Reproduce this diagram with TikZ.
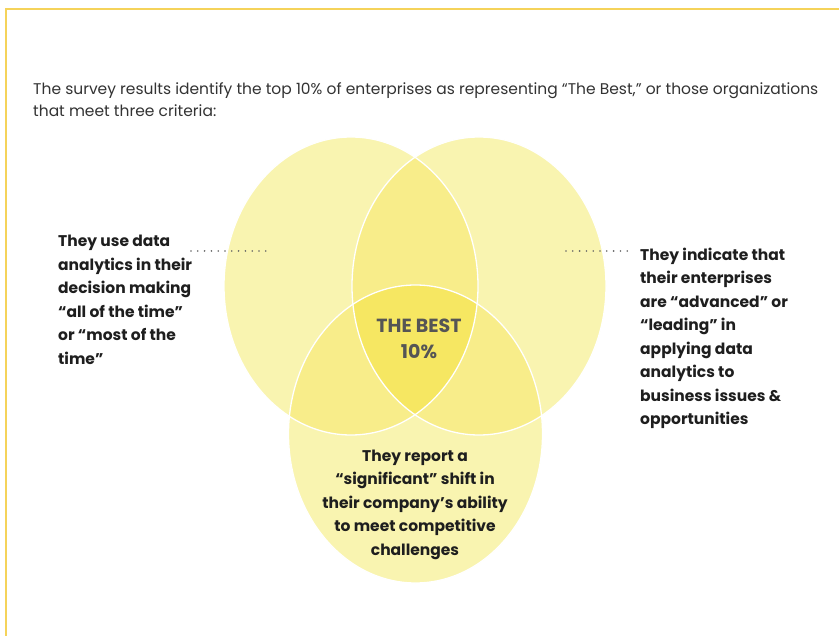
\documentclass[tikz,border=0pt]{standalone}
\usepackage{fontspec}
\setmainfont{Poppins}
\definecolor{frameyellow}{HTML}{F5D35A}
\definecolor{oneset}{HTML}{F9F4B0}
\definecolor{twoset}{HTML}{F8ED8A}
\definecolor{threeset}{HTML}{F6E762}
\definecolor{bodytext}{HTML}{1E1E1E}
\definecolor{introtext}{HTML}{333333}
\definecolor{besttext}{HTML}{555555}
\definecolor{dotgray}{HTML}{666666}
\begin{document}
\begin{tikzpicture}[x=1pt,y=-1pt,
  setshape/.style={x radius=127pt, y radius=149pt},
  label/.style={font=\fontsize{15.5}{23.5}\selectfont\bfseries, text=bodytext, inner sep=0pt},
  dotline/.style={dotgray, line width=1.8pt, line cap=round, dash pattern=on 0pt off 6.8pt},
  outline/.style={white, line width=1.3pt}]
\useasboundingbox (0,0) rectangle (839,636);
\fill[white] (0,0) rectangle (839,636);

% frame
\draw[frameyellow, line width=2pt] (5.5,636) -- (5.5,9) -- (839,9);

% intro text
\node[anchor=west, inner sep=0pt, align=left, text=introtext,
      font=\fontsize{15.5}{22}\selectfont] (intro) at (33,100)
  {The survey results identify the top 10\% of enterprises as representing “The Best,” or those organizations\\
   that meet three criteria:};

% set centres
\coordinate (cL) at (351,286);
\coordinate (cR) at (479,286);
\coordinate (cB) at (415.5,434);

% single regions
\fill[oneset] (cL) ellipse [setshape];
\fill[oneset] (cR) ellipse [setshape];
\fill[oneset] (cB) ellipse [setshape];
% pairwise overlaps
\begin{scope}
  \clip (cL) ellipse [setshape];
  \fill[twoset] (cR) ellipse [setshape];
  \fill[twoset] (cB) ellipse [setshape];
\end{scope}
\begin{scope}
  \clip (cR) ellipse [setshape];
  \fill[twoset] (cB) ellipse [setshape];
\end{scope}
% triple overlap
\begin{scope}
  \clip (cL) ellipse [setshape];
  \clip (cR) ellipse [setshape];
  \fill[threeset] (cB) ellipse [setshape];
\end{scope}
% white outlines
\draw[outline] (cL) ellipse [setshape];
\draw[outline] (cR) ellipse [setshape];
\draw[outline] (cB) ellipse [setshape];

% centre label
\node[align=center, inner sep=0pt, text=besttext,
      font=\fontsize{19}{26}\selectfont\bfseries] (best) at (419,339)
  {THE BEST\\10\%};

% criteria labels
\node[label, anchor=north west, align=left] (crit1) at (58,235)
  {They use data\\analytics in their\\decision making\\“all of the time”\\or “most of the\\time”};
\node[label, anchor=north west, align=left] (crit2) at (640,247.5)
  {They indicate that\\their enterprises\\are “advanced” or\\“leading” in\\applying data\\analytics to\\business issues \&\\opportunities};
\node[label, anchor=north, align=center] (crit3) at (415,449.5)
  {They report a\\“significant” shift in\\their company’s ability\\to meet competitive\\challenges};

% dotted leaders
\coordinate (lA) at (191,251);
\coordinate (lB) at (270,251);
\coordinate (rA) at (566,251);
\coordinate (rB) at (633,251);
\draw[dotline] (lA) -- (lB);
\draw[dotline] (rA) -- (rB);
\end{tikzpicture}
\end{document}
